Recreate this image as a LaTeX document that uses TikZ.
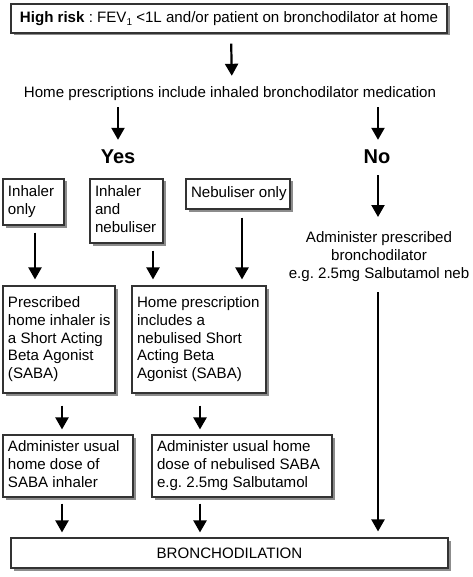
\documentclass[tikz,border=0pt]{standalone}
\usepackage{fontspec}
\setmainfont{Liberation Sans}
\usetikzlibrary{arrows.meta,shadows,calc}
\frenchspacing
\newcommand\boxtext[2]{\makebox[#1][l]{\begin{tabular}{@{}l@{}}#2\end{tabular}}}
\tikzset{
 box/.style={draw=black!80, line width=1.1pt, fill=white,
   drop shadow={shadow xshift=2.5pt,shadow yshift=-2.5pt,fill=black!45,opacity=1},
   inner xsep=5pt, inner ysep=0pt, font=\fontsize{15.1}{17.7}\selectfont},
 plain/.style={inner sep=0pt, font=\fontsize{15.1}{17.7}\selectfont},
 big/.style={inner sep=0pt, font=\fontsize{20}{24}\selectfont\bfseries, text height=15pt, text depth=4pt},
 arr/.style={line width=2.2pt, -{Triangle[width=13pt,length=12pt]}},
}
\begin{document}
\begin{tikzpicture}[x=1pt,y=-1pt]
\useasboundingbox[fill=white] (0,0) rectangle (472,577);

\node[box, minimum width=436pt, minimum height=29pt] (top) at (229,18.5)
  {\textbf{High risk} : FEV\raisebox{-0.35ex}{\fontsize{10}{10}\selectfont 1} <1L and/or patient on bronchodilator at home};
\node[plain, text height=11pt, text depth=3pt] (home) at (230,93.3)
  {Home prescriptions include inhaled bronchodilator medication};
\node[big] (yes) at (118,158.5) {Yes};
\node[big] (no) at (377,158.5) {No};

\node[box, minimum height=46pt] (b1) at (33.5,202) {\boxtext{51pt}{Inhaler\\only}};
\node[box, minimum height=64pt] (b2) at (126.5,211) {\boxtext{63pt}{Inhaler\\and\\nebuliser}};
\node[box, minimum height=30pt] (b3) at (238,194) {\boxtext{94pt}{Nebuliser only}};
\node[plain, align=center, anchor=north, font=\fontsize{15.1}{18}\selectfont] (adm) at (379,231)
  {Administer prescribed\\bronchodilator\\e.g. 2.5mg Salbutamol neb};

\node[box, minimum height=107pt] (b4) at (59,339.5)
  {\boxtext{102pt}{Prescribed\\home inhaler is\\a Short Acting\\Beta Agonist\\(SABA)}};
\node[box, minimum height=107pt] (b5) at (199,339.5)
  {\boxtext{124pt}{Home prescription\\includes a\\nebulised Short\\Acting Beta\\Agonist (SABA)}};

\node[box, minimum height=62pt] (b6) at (68,466)
  {\boxtext{120pt}{Administer usual\\home dose of\\SABA inhaler}};
\node[box, minimum height=62pt] (b7) at (242,466)
  {\boxtext{170pt}{Administer usual home\\dose of nebulised SABA\\e.g. 2.5mg Salbutamol}};

\node[box, minimum width=437pt, minimum height=30pt] (fin) at (229.5,553) {BRONCHODILATION};

% arrows
\draw[arr, shorten <=10pt, shorten >=10.3pt] ([xshift=2pt]top.south) -- ([xshift=2pt]home.north);
\draw[arr, shorten <=6.7pt, shorten >=9pt] (home.south -| yes.north) -- (yes.north);
\draw[arr, shorten <=6.7pt, shorten >=9pt] ([xshift=1pt]home.south -| no.north) -- ([xshift=1pt]no.north);
\draw[arr, shorten <=7pt, shorten >=14pt] ([xshift=1pt]no.south) -- ([xshift=1pt]no.south |- adm.north);
\draw[arr, shorten <=11pt, shorten >=6pt] ([xshift=-1pt]adm.south) -- ([xshift=-1pt]adm.south |- fin.north);

\draw[arr, shorten <=7pt, shorten >=6pt] ([xshift=1.5pt]b1.south) -- ([xshift=1.5pt]b1.south |- b4.north);
\draw[arr, shorten <=7pt, shorten >=6pt] ([xshift=26.5pt]b2.south) -- ([xshift=26.5pt]b2.south |- b5.north);
\draw[arr, shorten <=8pt, shorten >=6pt] ([xshift=4pt]b3.south) -- ([xshift=4pt]b3.south |- b5.north);

\draw[arr, shorten <=12pt, shorten >=5pt] ([xshift=3pt]b4.south) -- ([xshift=3pt]b4.south |- b6.north);
\draw[arr, shorten <=12pt, shorten >=5pt] ([xshift=1pt]b5.south) -- ([xshift=1pt]b5.south |- b7.north);

\draw[arr, shorten <=6pt, shorten >=5pt] ([xshift=-6pt]b6.south) -- ([xshift=-6pt]b6.south |- fin.north);
\draw[arr, shorten <=6pt, shorten >=5pt] ([xshift=-42pt]b7.south) -- ([xshift=-42pt]b7.south |- fin.north);
\end{tikzpicture}
\end{document}
